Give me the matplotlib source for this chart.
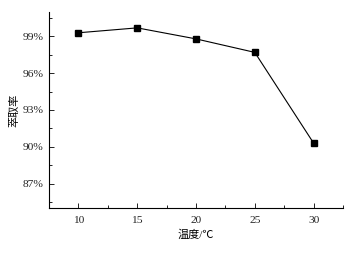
import matplotlib.pyplot as plt
from matplotlib.ticker import MultipleLocator, FuncFormatter

plt.rcParams['font.family'] = ['Liberation Serif', 'Noto Sans CJK SC']

# data
temperature = [10, 15, 20, 25, 30]
extraction_rate = [99.3, 99.7, 98.8, 97.7, 90.3]

fig = plt.figure(figsize=(3.58, 2.54), dpi=100)
ax = fig.add_axes([0.137, 0.181, 0.821, 0.772])

ax.plot(temperature, extraction_rate, color='black', linewidth=0.8,
        marker='s', markersize=4.8, markerfacecolor='black')

ax.set_xlim(7.5, 32.5)
ax.set_ylim(85, 101)
ax.xaxis.set_major_locator(MultipleLocator(5))
ax.xaxis.set_minor_locator(MultipleLocator(2.5))
ax.yaxis.set_major_locator(MultipleLocator(3))
ax.yaxis.set_minor_locator(MultipleLocator(1.5))
ax.yaxis.set_major_formatter(FuncFormatter(lambda v, p: f"{v:.0f}%"))

ax.spines['top'].set_visible(False)
ax.spines['right'].set_visible(False)
for s in ['left', 'bottom']:
    ax.spines[s].set_linewidth(0.8)
ax.tick_params(which='both', direction='in', labelsize=8.2, width=0.7,
               colors='#222222')
ax.tick_params(which='major', length=3.5)
ax.tick_params(which='minor', length=2)
ax.tick_params(axis='x', pad=6)
ax.tick_params(axis='y', pad=4)

ax.set_xlabel('温度/℃', fontsize=8, labelpad=3)
ax.set_ylabel('萃取率', fontsize=8, labelpad=2)

fig.savefig('out.png', dpi=100)
